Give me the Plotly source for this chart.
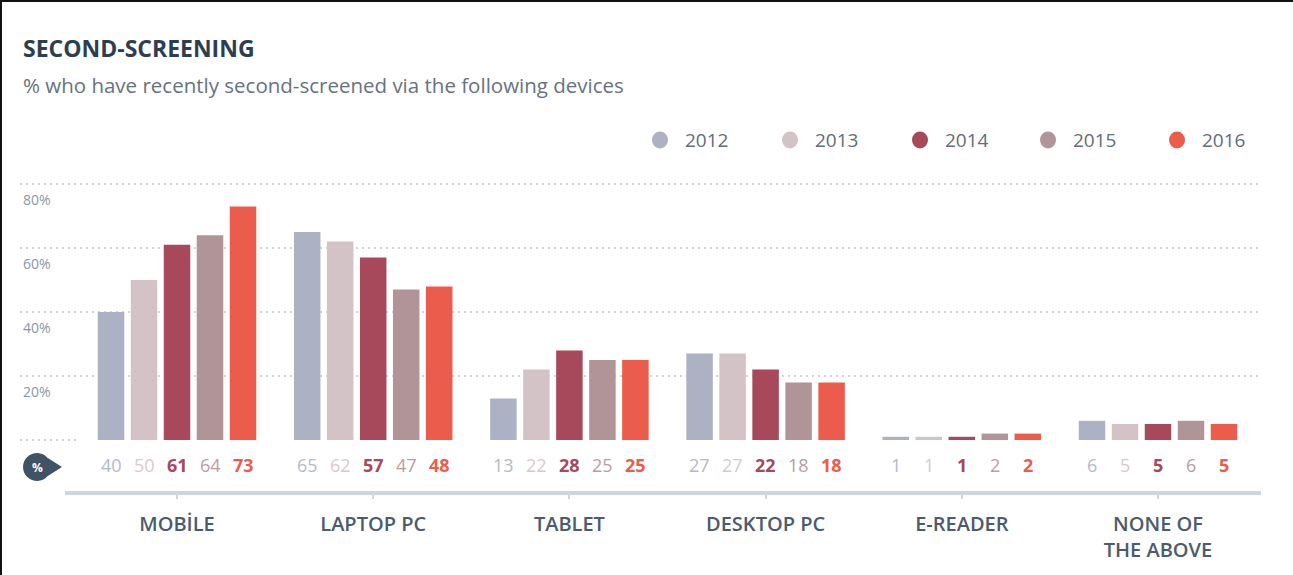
import math
import plotly.graph_objects as go

# ---------------- data ----------------
categories = ["MOBİLE", "LAPTOP PC", "TABLET", "DESKTOP PC", "E-READER", "NONE OF<br>THE ABOVE"]
years = ["2012", "2013", "2014", "2015", "2016"]
v2012 = [40, 65, 13, 27, 1, 6]
v2013 = [50, 62, 22, 27, 1, 5]
v2014 = [61, 57, 28, 22, 1, 5]
v2015 = [64, 47, 25, 18, 2, 6]
v2016 = [73, 48, 25, 18, 2, 5]
yticks = [20, 40, 60, 80]

series = [v2012, v2013, v2014, v2015, v2016]
bar_colors = ["#adb1c4", "#d4c3c6", "#a7485b", "#b19497", "#ec5c4c"]
label_colors = ["#b4b9ca", "#d8c9cc", "#a7485b", "#b99da1", "#ec5c4c"]
label_bold = [False, False, True, False, True]

# ---------------- layout geometry ----------------
W_FIG, H_FIG = 1293, 575
L, R, T, B = 20, 32, 171, 82
PW, PH = W_FIG - L - R, H_FIG - T - B
BOTTOM = H_FIG - B


def px(x):
    return (x - L) / PW


def py(y):
    return (BOTTOM - y) / PH


BARGAP = 0.159
BARGROUPGAP = 0.197
n = len(series)
step = (1 - BARGAP) / n

fig = go.Figure()
xs = list(range(len(categories)))
for i, (yr, vals) in enumerate(zip(years, series)):
    fig.add_trace(go.Bar(x=xs, y=vals, name=yr, marker_color=bar_colors[i],
                         marker_line_width=0, showlegend=False,
                         hovertemplate="%{y}%<extra>" + yr + "</extra>"))

annotations = []
# value labels under bars
for i, vals in enumerate(series):
    for g, v in enumerate(vals):
        xpos = g + (i - (n - 1) / 2) * step
        txt = f"<b>{v}</b>" if label_bold[i] else str(v)
        annotations.append(dict(x=xpos, y=-7.8, xref="x", yref="y", text=txt, showarrow=False,
                                font=dict(size=18, color=label_colors[i], family="Open Sans"),
                                xanchor="center", yanchor="middle"))

# title & subtitle
annotations.append(dict(x=px(21), y=py(48), xref="paper", yref="paper", text="<b>SECOND-SCREENING</b>",
                        showarrow=False, xanchor="left", yanchor="middle",
                        font=dict(size=23, color="#2e3e4f", family="Open Sans")))
annotations.append(dict(x=px(21), y=py(85), xref="paper", yref="paper",
                        text="% who have recently second-screened via the following devices",
                        showarrow=False, xanchor="left", yanchor="middle",
                        font=dict(size=20.5, color="#66727f", family="Open Sans")))

shapes = []
# legend
leg_cx = [660, 790, 920, 1048, 1177]
for i, yr in enumerate(years):
    cx = leg_cx[i]
    shapes.append(dict(type="circle", xref="paper", yref="paper",
                       x0=px(cx - 8), x1=px(cx + 8), y0=py(140 + 8.5), y1=py(140 - 8.5),
                       fillcolor=bar_colors[i], line_width=0))
    annotations.append(dict(x=px(cx + 23), y=py(140), xref="paper", yref="paper", text=yr,
                            showarrow=False, xanchor="left", yanchor="middle",
                            font=dict(size=19, color="#5f6c7b", family="Open Sans")))

# zero-line stub
shapes.append(dict(type="line", xref="paper", yref="y", x0=px(20), x1=px(80), y0=0, y1=0,
                   line=dict(color="#cfd4dc", width=2, dash="2px,4px")))
# axis line
shapes.append(dict(type="line", xref="paper", yref="paper", x0=px(65), x1=px(1261), y0=0, y1=0,
                   line=dict(color="#cfd5de", width=4)))

# teardrop % marker
cx0, cy0, r0, tipx = 37, 467, 14, 62
pts = []
for k in range(0, 25):
    ang = math.radians(42 + 276 * k / 24)
    pts.append((cx0 + r0 * math.cos(ang), cy0 - r0 * math.sin(ang)))
path = f"M {px(tipx)},{py(cy0)} " + " ".join(f"L {px(a)},{py(b)}" for a, b in pts) + " Z"
shapes.append(dict(type="path", xref="paper", yref="paper", path=path, fillcolor="#3f5266", line_width=0))
annotations.append(dict(x=px(cx0), y=py(cy0), xref="paper", yref="paper", text="<b>%</b>",
                        showarrow=False, xanchor="center", yanchor="middle",
                        font=dict(size=12, color="white", family="Open Sans")))

# outer border (left and top)
shapes.append(dict(type="line", xref="paper", yref="paper", x0=px(1), x1=px(1), y0=py(0), y1=py(575),
                   line=dict(color="#111", width=2)))
shapes.append(dict(type="line", xref="paper", yref="paper", x0=px(0), x1=px(1293), y0=py(1), y1=py(1),
                   line=dict(color="#111", width=2)))

ymax = (440 - T) / 3.2
ymin = -(BOTTOM - 440) / 3.2
x_left = -(177 - L) / 196.2
x_right = (W_FIG - R - 177) / 196.2

fig.update_layout(
    width=W_FIG, height=H_FIG,
    margin=dict(l=L, r=R, t=T, b=B, pad=0),
    paper_bgcolor="white", plot_bgcolor="white",
    barmode="group", bargap=BARGAP, bargroupgap=BARGROUPGAP,
    showlegend=False,
    annotations=annotations, shapes=shapes,
    font=dict(family="Open Sans"),
    xaxis=dict(range=[x_left, x_right], tickvals=xs, ticktext=categories, showgrid=False,
               zeroline=False, showline=False, ticks="outside", ticklen=5, tickwidth=2,
               tickcolor="#cfd5de", ticklabelstandoff=8,
               tickfont=dict(size=20, color="#4b5b6c", family="Open Sans", weight=600),
               fixedrange=True),
    yaxis=dict(range=[ymin, ymax], tickvals=yticks, ticktext=[f"{t}%" for t in yticks],
               showgrid=True, gridcolor="#cfd4dc", gridwidth=2, griddash="2px,4px",
               zeroline=False, showline=False, ticks="", ticklabelposition="inside bottom",
               ticklabelshift=6,
               tickfont=dict(size=14, color="#8c96a3", family="Open Sans"), fixedrange=True),
)

fig.write_html("out.html")
